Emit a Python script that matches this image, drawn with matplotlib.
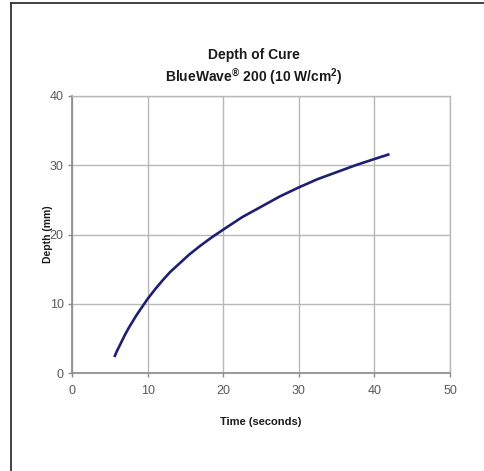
import matplotlib
matplotlib.use('Agg')
import matplotlib.pyplot as plt
from matplotlib.lines import Line2D

# values
time_s = [5.6, 6.0, 6.5, 7.0, 7.5, 8.0, 8.5, 9.0, 10, 11, 12, 13, 14, 15.5, 17,
          18.5, 20, 22.5, 25, 27.5, 30, 32.5, 35, 37.5, 40, 42]
depth_mm = [2.3, 3.3, 4.4, 5.5, 6.5, 7.4, 8.3, 9.1, 10.7, 12.1, 13.4, 14.6, 15.6, 17.1, 18.4,
            19.6, 20.7, 22.5, 24.0, 25.5, 26.8, 28.0, 29.0, 30.0, 30.9, 31.6]
x_ticks = [0, 10, 20, 30, 40, 50]
y_ticks = [0, 10, 20, 30, 40]

plt.rcParams['font.family'] = ['Liberation Sans', 'DejaVu Sans']
plt.rcParams['mathtext.fontset'] = 'custom'
plt.rcParams['mathtext.rm'] = 'Liberation Sans:bold'

fig = plt.figure(figsize=(4.84, 4.71), dpi=100)
ax = fig.add_axes([72 / 484, 1 - 373 / 471, 378 / 484, 277 / 471])

ax.plot(time_s, depth_mm, color='#1f1f72', lw=1.9, solid_capstyle='butt')

ax.set_xlim(0, 50)
ax.set_ylim(0, 40)
ax.set_xticks(x_ticks)
ax.set_yticks(y_ticks)
ax.grid(True, color='#b8b8b8', lw=1.0)
ax.set_axisbelow(True)
for side in ['top', 'right']:
    ax.spines[side].set_color('#b8b8b8')
    ax.spines[side].set_linewidth(1.0)
for side in ['left', 'bottom']:
    ax.spines[side].set_color('#8a8a8a')
    ax.spines[side].set_linewidth(1.2)
ax.tick_params(axis='both', colors='#8a8a8a', labelcolor='#5a5a5a',
               labelsize=9, length=3, width=1)
ax.tick_params(axis='x', pad=6)
ax.tick_params(axis='y', pad=3)

ax.set_xlabel('Time (seconds)', fontsize=8, fontweight='bold', color='#1a1a1a', labelpad=14)
ax.set_ylabel('Depth (mm)', fontsize=7.5, fontweight='bold', color='#1a1a1a')
ax.yaxis.set_label_coords(-0.05, 0.5)

fig.text(254 / 484, 1 - 55 / 471, 'Depth of Cure', ha='center', va='center',
         fontsize=10, fontweight='bold', color='#1a1a1a')
fig.text(254 / 484, 1 - 77 / 471, r'BlueWave$^{\mathrm{®}}$ 200 (10 W/cm$^{\mathrm{2}}$)',
         ha='center', va='center', fontsize=10, fontweight='bold', color='#1a1a1a')

# frame lines at top and left of the image
fig.add_artist(Line2D([11 / 484, 1], [1 - 2.5 / 471, 1 - 2.5 / 471], color='#333333', lw=1.3,
                      transform=fig.transFigure))
fig.add_artist(Line2D([11 / 484, 11 / 484], [0, 1 - 2.5 / 471], color='#333333', lw=1.3,
                      transform=fig.transFigure))

fig.savefig('out.png', dpi=100)
